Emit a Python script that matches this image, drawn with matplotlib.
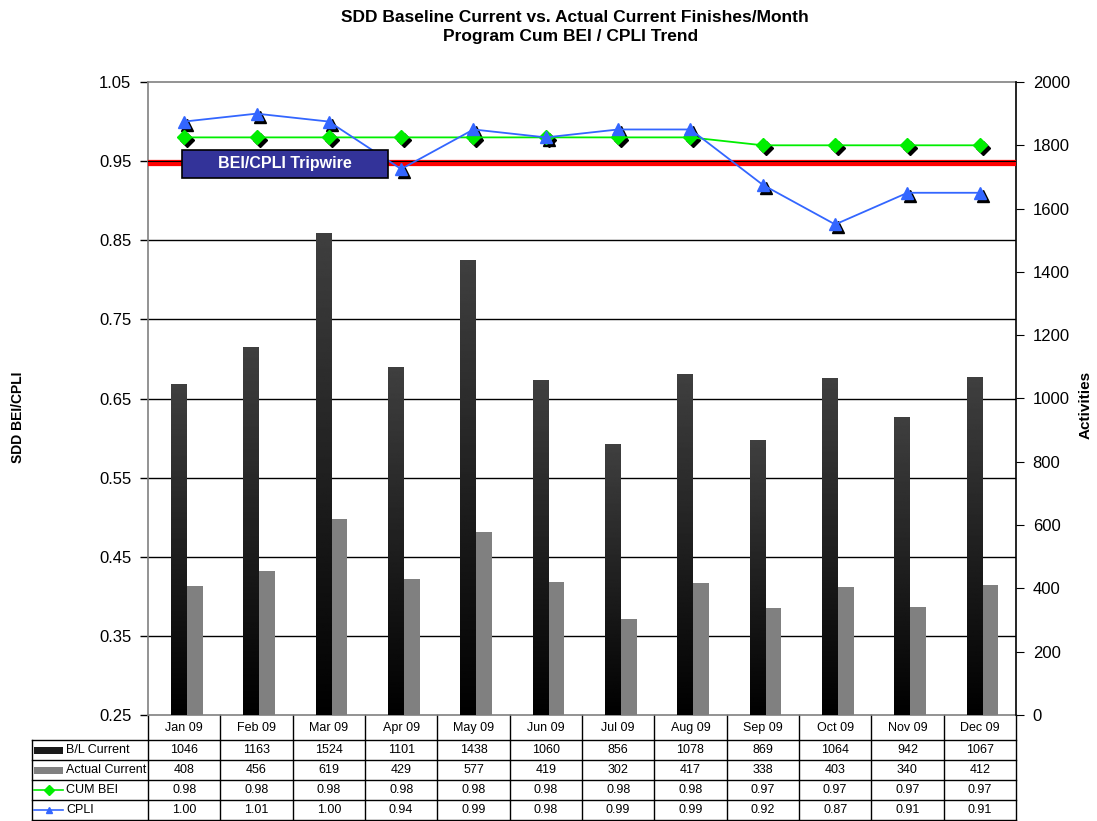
import numpy as np
import matplotlib.pyplot as plt
from matplotlib.patches import Rectangle
from matplotlib.lines import Line2D
from matplotlib.transforms import offset_copy

plt.rcParams['font.family'] = ['Liberation Sans', 'DejaVu Sans']

# Monthly finishes and cumulative indices
months = ["Jan 09", "Feb 09", "Mar 09", "Apr 09", "May 09", "Jun 09",
          "Jul 09", "Aug 09", "Sep 09", "Oct 09", "Nov 09", "Dec 09"]
bl_current = [1046, 1163, 1524, 1101, 1438, 1060, 856, 1078, 869, 1064, 942, 1067]
actual_current = [408, 456, 619, 429, 577, 419, 302, 417, 338, 403, 340, 412]
cum_bei = [0.98, 0.98, 0.98, 0.98, 0.98, 0.98, 0.98, 0.98, 0.97, 0.97, 0.97, 0.97]
cpli = [1.00, 1.01, 1.00, 0.94, 0.99, 0.98, 0.99, 0.99, 0.92, 0.87, 0.91, 0.91]
tripwire = 0.947

x = np.arange(len(months))
fig = plt.figure(figsize=(10.97, 8.21), dpi=100)
rect = [148 / 1097, 1 - 715 / 821, 868 / 1097, 633 / 821]

# back layer: left scale with gridlines
ax = fig.add_axes(rect)
ax.set_xlim(-0.5, 11.5)
ax.set_ylim(0.25, 1.05)
ax.set_yticks(np.arange(0.25, 1.06, 0.1))
ax.set_yticklabels([f"{v:.2f}" for v in np.arange(0.25, 1.06, 0.1)], fontsize=12)
ax.set_xticks([])
ax.tick_params(axis='y', length=6, width=1, color='black', pad=6)
for v in np.arange(0.35, 0.96, 0.1):
    ax.axhline(v, color='black', lw=1.0, zorder=1)
for s in ['left', 'top', 'bottom']:
    ax.spines[s].set_color('#808080')
    ax.spines[s].set_linewidth(1.2)
ax.spines['right'].set_visible(False)

# middle layer: bars on the activities scale
ax2 = ax.twinx()
ax2.set_ylim(0, 2000)
ax2.set_yticks(range(0, 2001, 200))
ax2.tick_params(axis='y', labelsize=12, length=6, pad=6)
ax2.patch.set_visible(False)
ax2.spines['right'].set_color('black')
ax2.spines['right'].set_linewidth(1.2)
for s in ['left', 'top', 'bottom']:
    ax2.spines[s].set_visible(False)

bl_bars = ax2.bar(x - 0.075, bl_current, width=0.21, color='#1a1a1a', zorder=2)
ax2.bar(x + 0.135, actual_current, width=0.24, color='#808080', zorder=2)
grad = np.linspace(0.25, 0.0, 256).reshape(-1, 1)
for b in bl_bars:
    x0, w, h = b.get_x(), b.get_width(), b.get_height()
    im = ax2.imshow(grad, cmap='gray', vmin=0, vmax=1, aspect='auto',
                    extent=(x0, x0 + w, 0, h), zorder=3)
    im.set_clip_path(b)
ax2.set_xlim(-0.5, 11.5)

# front layer: index lines, tripwire and its label
ax3 = fig.add_axes(rect, sharex=ax, sharey=ax)
ax3.axis('off')
ax3.axhline(tripwire, color='#ff0000', lw=4.5, zorder=2)
ax3.axhline(0.95, color='black', lw=0.8, zorder=2)
shadow = offset_copy(ax3.transData, fig=fig, x=3, y=-3, units='dots')
ax3.plot(x, cum_bei, ls='none', marker='D', ms=7, color='black', transform=shadow, zorder=3)
ax3.plot(x, cpli, ls='none', marker='^', ms=9, color='black', transform=shadow, zorder=3)
ax3.plot(x, cum_bei, color='#00ee00', lw=1.3, marker='D', ms=7, zorder=4)
ax3.plot(x, cpli, color='#3366ff', lw=1.3, marker='^', ms=9, zorder=4)
ax3.add_patch(Rectangle((-0.03, 0.9287), 2.85, 0.0353, facecolor='#333399',
                        edgecolor='black', lw=1.2, zorder=5))
ax3.text(1.395, 0.9465, "BEI/CPLI Tripwire", color='white', fontsize=11.5,
         weight='bold', ha='center', va='center', zorder=6)

# data table under the plot
T = ax.transAxes
rows_y = [0, -25 / 633, -45 / 633, -65 / 633, -85 / 633, -105 / 633]
left = (32 - 148) / 868
for i in range(13):
    ax.add_line(Line2D([i / 12, i / 12], [rows_y[0], rows_y[-1]], color='black',
                       lw=1, transform=T, clip_on=False))
for k, yv in enumerate(rows_y[1:]):
    ax.add_line(Line2D([left, 1], [yv, yv], color='black', lw=1,
                       transform=T, clip_on=False))
ax.add_line(Line2D([left, left], [rows_y[1], rows_y[-1]], color='black', lw=1,
                   transform=T, clip_on=False))

table_rows = [
    [str(v) for v in bl_current],
    [str(v) for v in actual_current],
    [f"{v:.2f}" for v in cum_bei],
    [f"{v:.2f}" for v in cpli],
]
row_labels = ["B/L Current", "Actual Current", "CUM BEI", "CPLI"]
for i, m in enumerate(months):
    ax.text((i + 0.5) / 12, (rows_y[0] + rows_y[1]) / 2, m, transform=T,
            ha='center', va='center', fontsize=9)
    for r, vals in enumerate(table_rows):
        ax.text((i + 0.5) / 12, (rows_y[r + 1] + rows_y[r + 2]) / 2, vals[i],
                transform=T, ha='center', va='center', fontsize=9)

sw0, sw1 = (34 - 148) / 868, (63 - 148) / 868
for r, lab in enumerate(row_labels):
    yc = (rows_y[r + 1] + rows_y[r + 2]) / 2
    ax.text((66 - 148) / 868, yc, lab, transform=T, ha='left', va='center', fontsize=9)
    if r < 2:
        ax.add_patch(Rectangle((sw0, yc - 3.5 / 633), sw1 - sw0, 7 / 633,
                               facecolor='#1a1a1a' if r == 0 else '#808080',
                               edgecolor='none', transform=T, clip_on=False))
    else:
        col = '#00ee00' if r == 2 else '#3366ff'
        mk = 'D' if r == 2 else '^'
        ax.add_line(Line2D([sw0, sw1], [yc, yc], color=col, lw=1.2,
                           transform=T, clip_on=False))
        ax.add_line(Line2D([(sw0 + sw1) / 2], [yc], color=col, marker=mk,
                           ms=5, transform=T, clip_on=False))

fig.text(0.524, 1 - 22 / 821, "SDD Baseline Current vs. Actual Current Finishes/Month",
         ha='center', va='baseline', fontsize=12.5, weight='bold')
fig.text(0.52, 1 - 41 / 821, "Program Cum BEI / CPLI Trend",
         ha='center', va='baseline', fontsize=12.5, weight='bold')
fig.text(18 / 1097, 1 - 417 / 821, "SDD BEI/CPLI", rotation=90, ha='center',
         va='center', fontsize=10, weight='bold')
fig.text(1086 / 1097, 1 - 405 / 821, "Activities", rotation=90, ha='center',
         va='center', fontsize=11, weight='bold')

fig.savefig("out.png", dpi=100)
